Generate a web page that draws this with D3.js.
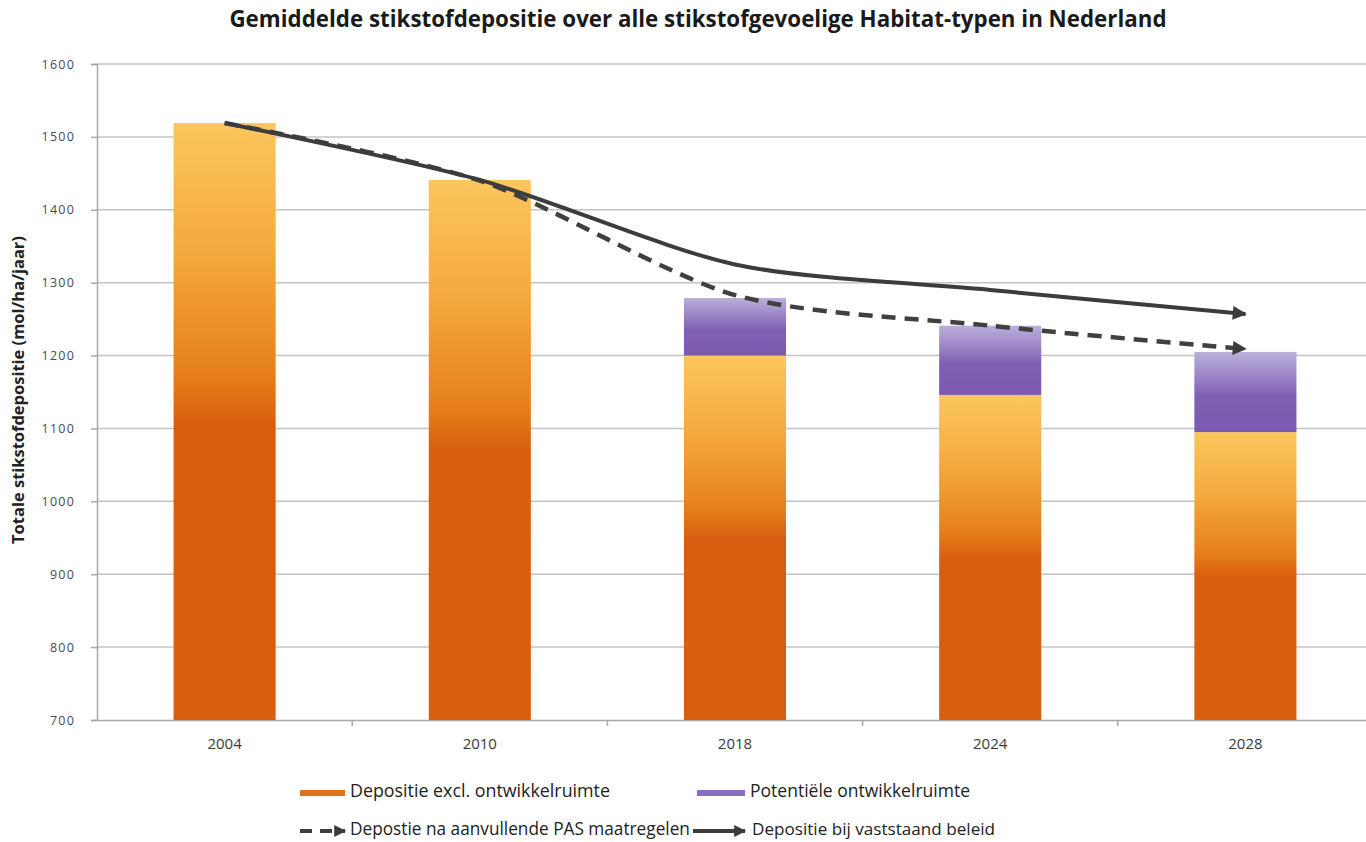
<!DOCTYPE html>
<html>
<head>
<meta charset="utf-8">
<script src="https://cdn.jsdelivr.net/npm/d3@7"></script>
<style>
  html, body { margin: 0; padding: 0; background: #fff; }
  svg { display: block; }
  text { font-family: "Open Sans", "DejaVu Sans", sans-serif; }
</style>
</head>
<body>
<svg id="chart" width="1366" height="842"></svg>
<script>
// ---- data ----
const years = ["2004", "2010", "2018", "2024", "2028"];
const depositieExcl = [1519, 1441, 1200, 1146, 1095];
const potentieleOntwikkelruimte = [0, 0, 79, 95, 110];
const vaststaandBeleid = [1519, 1441, 1325, 1290, 1257];
const aanvullendePAS = [1519, 1440, 1283, 1241, 1209];
const yTicks = [700, 800, 900, 1000, 1100, 1200, 1300, 1400, 1500, 1600];

const title = "Gemiddelde stikstofdepositie over alle stikstofgevoelige Habitat-typen in Nederland";
const yTitle = "Totale stikstofdepositie (mol/ha/jaar)";
const legendLabels = ["Depositie excl. ontwikkelruimte", "Potentiële ontwikkelruimte",
                      "Depostie na aanvullende PAS maatregelen", "Depositie bij vaststaand beleid"];

// ---- layout ----
const svg = d3.select("#chart");
const mLeft = 97, mRight = 1373, mTop = 64, mBottom = 720;

const x = d3.scaleBand().domain(years).range([mLeft, mRight]).paddingInner(0.6).paddingOuter(0.3);
const y = d3.scaleLinear().domain([700, 1600]).range([mBottom, mTop]);

function fitText(sel, w) {
  const node = sel.node();
  let fs = parseFloat(sel.attr("font-size"));
  const len = node.getComputedTextLength();
  if (len > 0) sel.attr("font-size", (fs * w / len).toFixed(2));
  return sel;
}

// gradients
const defs = svg.append("defs");
const gO = defs.append("linearGradient").attr("id", "gOrange").attr("x1", 0).attr("y1", 0).attr("x2", 0).attr("y2", 1);
[[0, "#fcc65e"], [0.22, "#f4a93d"], [0.42, "#e6801a"], [0.5, "#d95f10"], [1, "#d85e10"]]
  .forEach(([o, c]) => gO.append("stop").attr("offset", o).attr("stop-color", c));
const gP = defs.append("linearGradient").attr("id", "gPurple").attr("x1", 0).attr("y1", 0).attr("x2", 0).attr("y2", 1);
[[0, "#bbb0dc"], [0.55, "#8060b4"], [1, "#7c58b2"]]
  .forEach(([o, c]) => gP.append("stop").attr("offset", o).attr("stop-color", c));

defs.append("marker").attr("id", "arrowDark")
  .attr("viewBox", "0 0 10 10").attr("refX", 9).attr("refY", 5)
  .attr("markerUnits", "userSpaceOnUse").attr("markerWidth", 16).attr("markerHeight", 14)
  .attr("orient", "auto")
  .append("path").attr("d", "M0,0 L10,5 L0,10 Z").attr("fill", "#3c3c3c");
defs.append("marker").attr("id", "arrowSmall")
  .attr("viewBox", "0 0 10 10").attr("refX", 9).attr("refY", 5)
  .attr("markerUnits", "userSpaceOnUse").attr("markerWidth", 14).attr("markerHeight", 12)
  .attr("orient", "auto")
  .append("path").attr("d", "M0,0 L10,5 L0,10 Z").attr("fill", "#3c3c3c");

// gridlines
svg.append("g").selectAll("line").data(yTicks.filter(d => d > 700)).join("line")
  .attr("x1", mLeft).attr("x2", 1366)
  .attr("y1", d => y(d)).attr("y2", d => y(d))
  .attr("stroke", "#c4c4c4").attr("stroke-width", 1.5);

// y axis
const yAxis = svg.append("g").attr("transform", `translate(${mLeft},0)`)
  .call(d3.axisLeft(y).tickValues(yTicks).tickSize(6).tickPadding(16).tickFormat(d3.format("d")));
yAxis.select(".domain").attr("stroke", "#a8a8a8").attr("stroke-width", 1.5);
yAxis.selectAll(".tick line").attr("stroke", "#a8a8a8").attr("stroke-width", 1.5);
yAxis.selectAll(".tick text").attr("font-family", "DejaVu Sans, sans-serif")
  .attr("font-size", 12.5).attr("fill", "#4a4a4a").attr("letter-spacing", 1.2);

// x axis
const xAxis = svg.append("g").attr("transform", `translate(0,${mBottom})`)
  .call(d3.axisBottom(x).tickSize(0).tickPadding(18));
xAxis.select(".domain").attr("stroke", "#a8a8a8").attr("stroke-width", 1.5);
xAxis.selectAll(".tick text").attr("font-size", 15).attr("fill", "#3a3a3a");
// category boundary ticks
svg.append("g").selectAll("line").data(years.slice(1)).join("line")
  .attr("x1", d => x(d) - x.step() * x.paddingInner() / 2)
  .attr("x2", d => x(d) - x.step() * x.paddingInner() / 2)
  .attr("y1", mBottom).attr("y2", mBottom + 6)
  .attr("stroke", "#a8a8a8").attr("stroke-width", 1.5);

// bars
const barData = years.map((yr, i) => ({ yr, base: depositieExcl[i], pot: potentieleOntwikkelruimte[i] }));
svg.append("g").selectAll("rect").data(barData).join("rect")
  .attr("x", d => x(d.yr)).attr("width", x.bandwidth())
  .attr("y", d => y(d.base)).attr("height", d => y(700) - y(d.base))
  .attr("fill", "url(#gOrange)");
svg.append("g").selectAll("rect").data(barData.filter(d => d.pot > 0)).join("rect")
  .attr("x", d => x(d.yr)).attr("width", x.bandwidth())
  .attr("y", d => y(d.base + d.pot)).attr("height", d => y(d.base) - y(d.base + d.pot))
  .attr("fill", "url(#gPurple)");

// lines
const line = d3.line()
  .x((d, i) => x(years[i]) + x.bandwidth() / 2)
  .y(d => y(d))
  .curve(d3.curveCardinal.tension(0.2));

svg.append("path").datum(aanvullendePAS)
  .attr("d", line).attr("fill", "none").attr("stroke", "#404040")
  .attr("stroke-width", 4.5).attr("stroke-dasharray", "14,9")
  .attr("marker-end", "url(#arrowDark)");
svg.append("path").datum(vaststaandBeleid)
  .attr("d", line).attr("fill", "none").attr("stroke", "#3c3c3c")
  .attr("stroke-width", 4)
  .attr("marker-end", "url(#arrowDark)");

// title
const t = svg.append("text").attr("x", 698).attr("y", 27).attr("text-anchor", "middle")
  .attr("font-size", 19).attr("font-weight", "bold").attr("fill", "#1a1a1a").text(title);
fitText(t, 937);

// y title
const yt = svg.append("text").attr("transform", "translate(24,390) rotate(-90)")
  .attr("text-anchor", "middle").attr("font-size", 12).attr("font-weight", "bold")
  .attr("fill", "#222").text(yTitle);
fitText(yt, 308);

// legend
const lg = svg.append("g");
lg.append("line").attr("x1", 300).attr("x2", 345).attr("y1", 793).attr("y2", 793)
  .attr("stroke", "#e0731a").attr("stroke-width", 6);
lg.append("line").attr("x1", 697).attr("x2", 745).attr("y1", 793).attr("y2", 793)
  .attr("stroke", "#8a70c0").attr("stroke-width", 6);
lg.append("line").attr("x1", 300).attr("x2", 345).attr("y1", 831).attr("y2", 831)
  .attr("stroke", "#404040").attr("stroke-width", 4).attr("stroke-dasharray", "12,8")
  .attr("marker-end", "url(#arrowSmall)");
lg.append("line").attr("x1", 693).attr("x2", 745).attr("y1", 831).attr("y2", 831)
  .attr("stroke", "#3c3c3c").attr("stroke-width", 4)
  .attr("marker-end", "url(#arrowSmall)");

const legPos = [[350, 797, 260], [750, 797, 220], [350, 835, 340], [752, 835, 243]];
legendLabels.forEach((lab, i) => {
  const [lx, ly, w] = legPos[i];
  const tx = lg.append("text").attr("x", lx).attr("y", ly).attr("font-size", 13)
    .attr("fill", "#222").text(lab);
  fitText(tx, w);
});
</script>
</body>
</html>
